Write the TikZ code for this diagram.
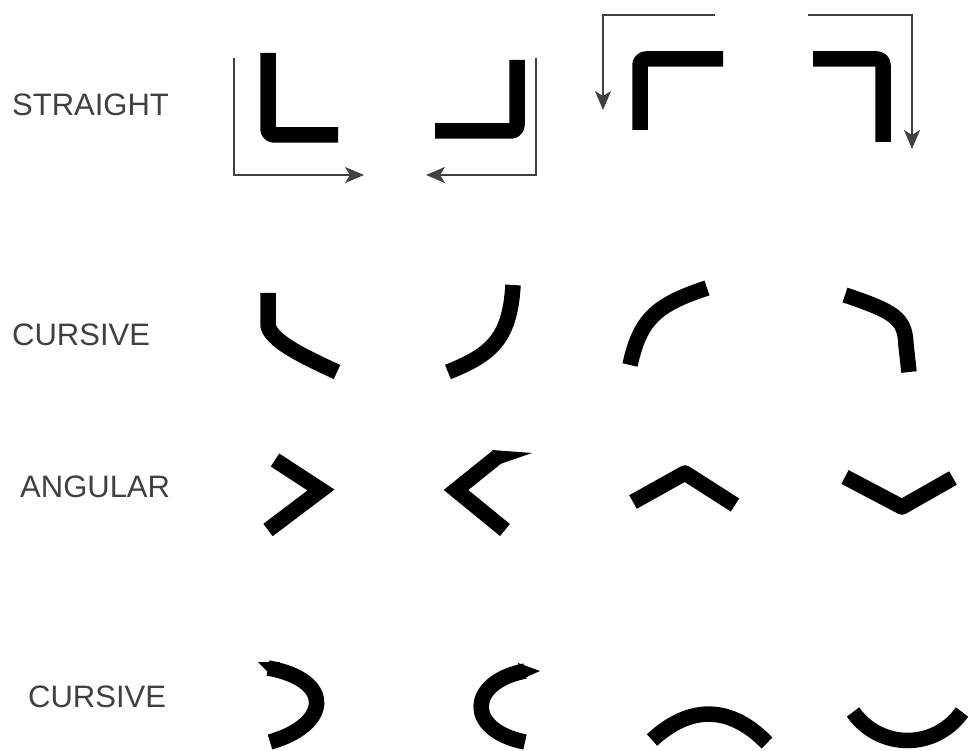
\documentclass[tikz,border=0pt]{standalone}
\usepackage{fontspec}
\setmainfont{Liberation Sans}
\usetikzlibrary{arrows.meta}
\tikzset{
  stroke/.style={line width=15.5pt, line join=round, black},
  guide/.style={line width=1.8pt, draw=black!75, -{Stealth[length=19pt, width=16pt, inset=5pt]}},
  lbl/.style={anchor=west, inner sep=0pt, text=black!75, font=\fontsize{31}{31}\selectfont},
  tip/.style={fill=black}
}
\begin{document}
\begin{tikzpicture}[x=1pt, y=-1pt]
  \useasboundingbox (0,0) rectangle (972,751);
  % row labels
  \node[lbl] (straight) at (12,105) {STRAIGHT};
  \node[lbl] (cursiveA) at (12,335) {CURSIVE};
  \node[lbl] (angular) at (20,487) {ANGULAR};
  \node[lbl] (cursiveB) at (28,697) {CURSIVE};
  % straight strokes
  \draw[stroke, rounded corners=6pt] (268,53) -- (268,135) -- (338,135);
  \draw[stroke, rounded corners=6pt] (517,60) -- (517,131) -- (435,131);
  \draw[stroke, rounded corners=6pt] (640,130) -- (640,59) -- (723,59);
  \draw[stroke, rounded corners=6pt] (813,59) -- (883,59) -- (883,142);
  % direction guides
  \draw[guide] (234,58) -- (234,175) -- (364,175);
  \draw[guide] (536,58) -- (536,175) -- (426,175);
  \draw[guide] (715,15) -- (603,15) -- (603,110);
  \draw[guide] (808,15) -- (912,15) -- (912,149);
  % cursive strokes
  \draw[stroke] (268,293) -- (268,325) .. controls (270,340) and (300,355) .. (337,372);
  \draw[stroke] (513,285) .. controls (510,340) and (490,355) .. (448,372);
  \draw[stroke] (630,365) .. controls (640,320) and (655,305) .. (707,288);
  \draw[stroke] (845,295) .. controls (895,312) and (905,318) .. (906,345) -- (909,372);
  % angular strokes
  \draw[stroke, line join=miter] (275,460) -- (321,490) -- (268,530);
  \draw[stroke, line join=miter] (505,530) -- (456,490) -- (497,457);
  \fill[tip] (492,450) -- (532,453) -- (500,464) -- cycle;
  \draw[stroke] (633,502) -- (685,473) -- (735,505);
  \draw[stroke] (845,477) -- (902,507) -- (953,478);
  % curved strokes
  \draw[stroke] (268,668) .. controls (335,680) and (330,725) .. (270,742);
  \fill[tip] (258,662) -- (280,662) -- (272,676) -- cycle;
  \draw[stroke] (525,671) .. controls (468,682) and (465,730) .. (525,742);
  \fill[tip] (518,663) -- (540,671) -- (520,680) -- cycle;
  \draw[stroke] (652,740) .. controls (690,705) and (730,705) .. (767,743);
  \draw[stroke] (853,712) .. controls (880,750) and (935,750) .. (962,712);
\end{tikzpicture}
\end{document}
